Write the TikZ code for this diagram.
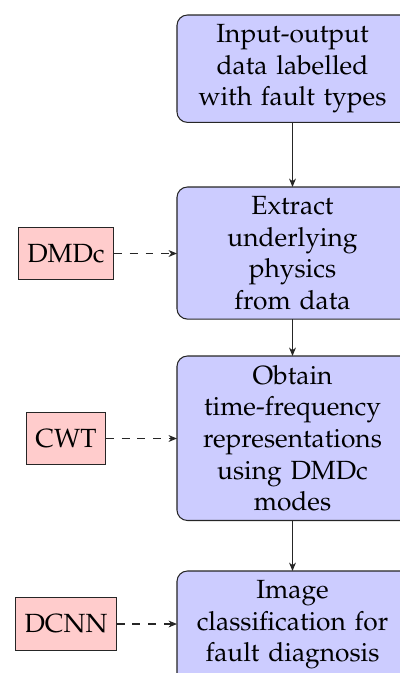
\documentclass[tikz,border=0pt]{standalone}
\usepackage[T1]{fontenc}
\renewcommand{\rmdefault}{ppl}
\usetikzlibrary{arrows.meta,backgrounds}
\begin{document}
\begin{tikzpicture}[x=0.38pt,y=-0.38pt,
  proc/.style={text width=80pt, align=center, inner sep=3.33pt, minimum width=87.4pt},
  procbox/.style={draw=black!85, fill=blue!20, rounded corners=4pt},
  tool/.style={draw=black!85, fill=red!20, minimum height=20pt, inner sep=3.33pt},
  flow/.style={draw=black!85, -{Stealth[length=3.2pt,width=2.6pt,inset=1pt]}},
  aux/.style={flow, dashed}]
\useasboundingbox (0,0) rectangle (400,673);
\clip (0,0) rectangle (400,673);
\node[proc, anchor=north] (b1) at (292.5,15) {Input-output\\data labelled\\with fault types};
\node[proc, anchor=north] (b2) at (292.5,187) {Extract\\underlying\\physics\\from data};
\node[proc, anchor=north] (b3) at (292.5,356) {Obtain\\time-frequency\\representations\\using DMDc\\modes};
\node[proc, anchor=north] (b4) at (292.5,571) {Image\\classification for\\fault diagnosis};
\begin{pgfonlayer}{background}
\foreach \b in {b1,b2,b3} {
  \draw[procbox] (\b.north west) rectangle ([xshift=12pt]\b.south east);
}
\draw[procbox] (b4.north west) rectangle ([xshift=12pt,yshift=-12pt]b4.south east);
\end{pgfonlayer}
\node[tool] (t1) at (66,253.5) {DMDc};
\node[tool] (t2) at (66,438.5) {CWT};
\node[tool] (t3) at (66,624) {DCNN};
\draw[flow] (b1) -- (b2);
\draw[flow] (b2) -- (b3);
\draw[flow] (b3) -- (b4);
\draw[aux] (t1) -- (t1 -| b2.west);
\draw[aux] (t2) -- (t2 -| b3.west);
\draw[aux] (t3) -- (t3 -| b4.west);
\end{tikzpicture}
\end{document}
